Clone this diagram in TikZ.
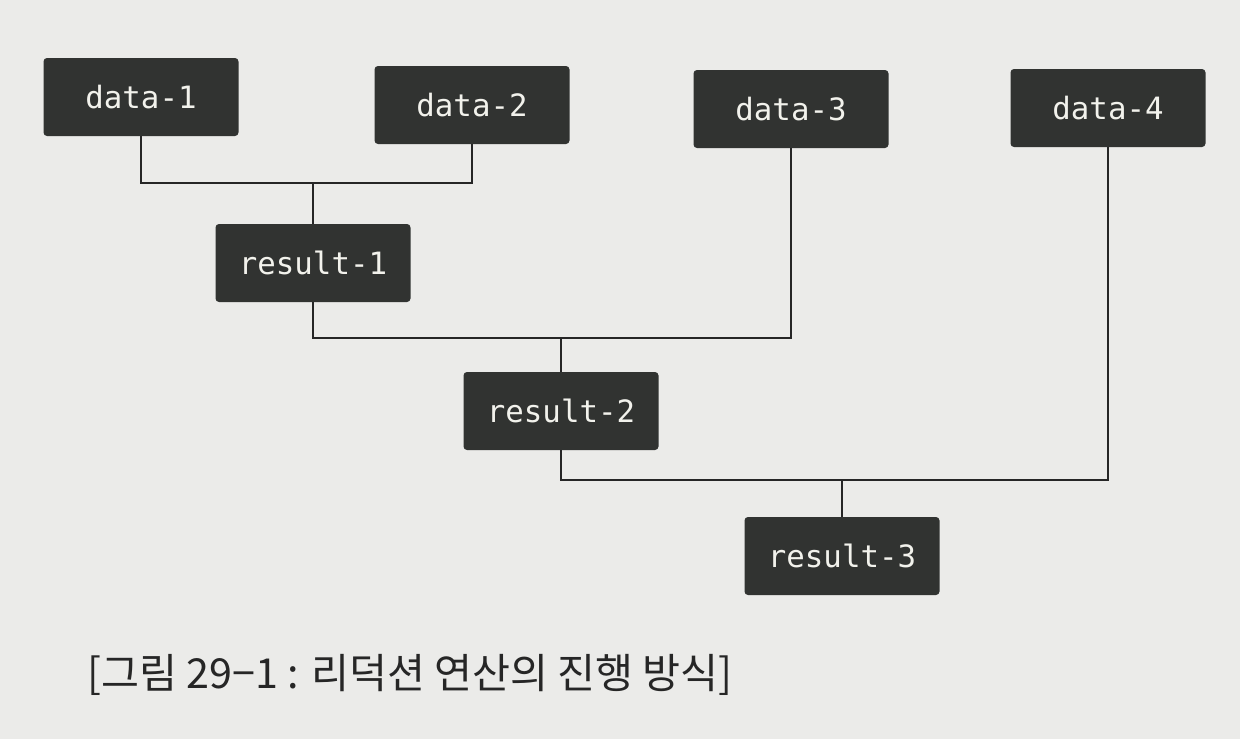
\documentclass[tikz,border=0pt]{standalone}
\usepackage{fontspec}
\setmonofont{DejaVu Sans Mono}
\newfontfamily\krfont{Noto Sans CJK KR}
\definecolor{paper}{HTML}{EBEBE9}
\definecolor{boxfill}{HTML}{313331}
\definecolor{boxtext}{HTML}{F2F2EC}
\definecolor{inkline}{HTML}{262626}
\begin{document}
\begin{tikzpicture}[
    darkbox/.style={fill=boxfill, text=boxtext, rounded corners=2pt,
        minimum width=3.9cm, minimum height=1.56cm,
        font=\ttfamily\fontsize{17.5}{20}\selectfont},
    joinline/.style={draw=inkline, line width=1.1pt}
]
    \useasboundingbox[fill=paper] (0,0) rectangle (24.8,-14.78);
    % Data
    \node[darkbox] (data1) at (2.82,-1.94) {data-1};
    \node[darkbox] (data2) at (9.44,-2.10) {data-2};
    \node[darkbox] (data3) at (15.82,-2.18) {data-3};
    \node[darkbox] (data4) at (22.16,-2.16) {data-4};
    % Results
    \node[darkbox] (res1) at (6.26,-5.26) {result-1};
    \node[darkbox] (res2) at (11.22,-8.22) {result-2};
    \node[darkbox] (res3) at (16.84,-11.12) {result-3};
    % Joins
    \coordinate (join1) at (6.26,-3.66);
    \coordinate (join2) at (11.22,-6.76);
    \coordinate (join3) at (16.84,-9.60);
    \draw[joinline] (data1.south) |- (join1) -| (data2.south);
    \draw[joinline] (join1) -- (res1.north);
    \draw[joinline] (res1.south) |- (join2) -| (data3.south);
    \draw[joinline] (join2) -- (res2.north);
    \draw[joinline] (res2.south) |- (join3) -| (data4.south);
    \draw[joinline] (join3) -- (res3.north);
    % Caption
    \node[font=\krfont\fontsize{23.5}{28}\selectfont, text=inkline] (caption) at (8.2,-13.5)
        {[그림 29−1 : 리덕션 연산의 진행 방식]};
\end{tikzpicture}
\end{document}
